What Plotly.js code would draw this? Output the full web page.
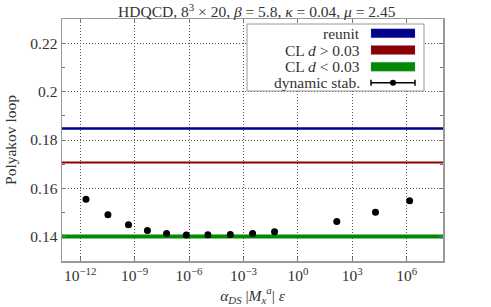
<!DOCTYPE html>
<html><head><meta charset="utf-8">
<script src="https://cdn.plot.ly/plotly-3.0.1.min.js"></script>
<style>body{margin:0;background:#fff}#c{width:491px;height:307px}</style>
</head><body><div id="c"></div>
<script>
// data
const dsX = [2.1e-12, 3.4e-11, 4.6e-10, 5.1e-9, 5.8e-8, 7.1e-7, 1.1e-5, 1.9e-4, 3.2e-3, 5.2e-2, 1.4e2, 1.9e4, 1.45e6];
const dsY = [0.1555, 0.1491, 0.1450, 0.1426, 0.1414, 0.1407, 0.1408, 0.1410, 0.1414, 0.1421, 0.1463, 0.1501, 0.1549];
const dsErr = [0.0003, 0.0003, 0.0003, 0.0003, 0.0003, 0.0003, 0.0003, 0.0003, 0.0003, 0.0003, 0.0003, 0.0003, 0.0003];
const lineX = [1e-13, 1e8];
const reunitY = 0.1848;
const clHighY = 0.1707;
const clLowY = 0.1401;
const legendLabels = ["reunit", "CL <i>d</i> > 0.03", "CL <i>d</i> < 0.03", "dynamic stab."];
const legendColors = ["#00008b", "#8b0000", "#008b00", "#000000"];
const xTickVals = [1e-12, 1e-9, 1e-6, 1e-3, 1e0, 1e3, 1e6];
const xTickText = ["10<sup>−12</sup>", "10<sup>−9</sup>", "10<sup>−6</sup>", "10<sup>−3</sup>", "10<sup>0</sup>", "10<sup>3</sup>", "10<sup>6</sup>"];
const yTickVals = [0.14, 0.16, 0.18, 0.2, 0.22];
const yTickText = ["0.14", "0.16", "0.18", "0.2", "0.22"];

const FONT = "Liberation Serif, DejaVu Serif, serif";
const FS = 15.5;
const TXT = "#333";
const traces = [
  {x: lineX, y: [reunitY, reunitY], mode: "lines", line: {color: legendColors[0], width: 2.5}, showlegend: false},
  {x: lineX, y: [clHighY, clHighY], mode: "lines", line: {color: legendColors[1], width: 2}, showlegend: false},
  {x: lineX, y: [clLowY, clLowY], mode: "lines", line: {color: legendColors[2], width: 4}, showlegend: false},
  {x: dsX, y: dsY, mode: "markers", marker: {color: "#000", size: 7},
   error_y: {type: "data", array: dsErr, color: "#000", thickness: 1, width: 2}, showlegend: false}
];

// legend drawn manually (symbol on the right like the reference)
const L = 62, R = 443, T = 19, B = 261;
const px = v => (v - L) / (R - L);
const py = v => (B - v) / (B - T);
const shapes = [
  {type: "rect", xref: "paper", yref: "paper", x0: px(247), x1: px(424), y0: py(91), y1: py(24),
   line: {color: "#999", width: 1}, fillcolor: "#fff", layer: "above"}
];
const annotations = [];
const rowY = [33.3, 50, 66.7, 82.7];
for (let i = 0; i < 4; i++) {
  annotations.push({xref: "paper", yref: "paper", x: px(362), y: py(rowY[i]), xanchor: "right", yanchor: "middle",
    text: legendLabels[i], showarrow: false, font: {family: FONT, size: FS, color: TXT}});
  if (i < 3) {
    shapes.push({type: "rect", xref: "paper", yref: "paper", x0: px(371), x1: px(415),
      y0: py(rowY[i] + 4.5), y1: py(rowY[i] - 4.5), fillcolor: legendColors[i],
      line: {color: "rgba(120,120,200,0.5)", width: 0.5}, layer: "above"});
  } else {
    shapes.push({type: "line", xref: "paper", yref: "paper", x0: px(371), x1: px(415), y0: py(rowY[i]), y1: py(rowY[i]), line: {color: "#000", width: 1.5}, layer: "above"});
    shapes.push({type: "line", xref: "paper", yref: "paper", x0: px(371), x1: px(371), y0: py(rowY[i] - 3), y1: py(rowY[i] + 3), line: {color: "#000", width: 1.5}, layer: "above"});
    shapes.push({type: "line", xref: "paper", yref: "paper", x0: px(415), x1: px(415), y0: py(rowY[i] - 3), y1: py(rowY[i] + 3), line: {color: "#000", width: 1.5}, layer: "above"});
    shapes.push({type: "circle", xref: "paper", yref: "paper", x0: px(390), x1: px(396), y0: py(rowY[i] + 3), y1: py(rowY[i] - 3), fillcolor: "#000", line: {color: "#000", width: 0}, layer: "above"});
  }
}

const layout = {
  width: 491, height: 307,
  margin: {l: L, r: 491 - R, t: T, b: 307 - B},
  paper_bgcolor: "#fff", plot_bgcolor: "#fff",
  font: {family: FONT, size: FS, color: TXT},
  title: {text: "HDQCD, 8<sup>3</sup> × 20, <i>β</i> = 5.8, <i>κ</i> = 0.04, <i>μ</i> = 2.45",
    x: 0.523, xanchor: "center", y: 0.962, yanchor: "middle", font: {family: FONT, size: FS, color: TXT}},
  xaxis: {type: "log", range: [-13, 8], tickvals: xTickVals, ticktext: xTickText,
    showgrid: true, gridcolor: "#555", griddash: "1px,2px", gridwidth: 1,
    ticks: "inside", ticklen: 4, tickcolor: "#777", showline: true, linecolor: "#999", linewidth: 1.5, mirror: "ticks",
    zeroline: false, tickfont: {family: FONT, size: FS, color: TXT},
    title: {text: "<i>α<sub>DS</sub></i> |<i>M</i><sub><i>x</i></sub><sup><i>a</i></sup>| <i>ε</i>", standoff: 6, font: {family: FONT, size: FS, color: TXT}}},
  yaxis: {range: [0.13, 0.23], tickvals: yTickVals, ticktext: yTickText,
    showgrid: true, gridcolor: "#555", griddash: "1px,2px", gridwidth: 1,
    ticks: "inside", ticklen: 4, tickcolor: "#777", showline: true, linecolor: "#999", linewidth: 1.5, mirror: "ticks",
    zeroline: false, tickfont: {family: FONT, size: FS, color: TXT},
    minor: {dtick: 0.01, ticks: "inside", ticklen: 3, tickcolor: "#777", showgrid: false},
    title: {text: "Polyakov loop", standoff: 10, font: {family: FONT, size: FS, color: TXT}}},
  shapes: shapes, annotations: annotations, showlegend: false
};
Plotly.newPlot("c", traces, layout, {staticPlot: true, displayModeBar: false});
</script></body></html>
